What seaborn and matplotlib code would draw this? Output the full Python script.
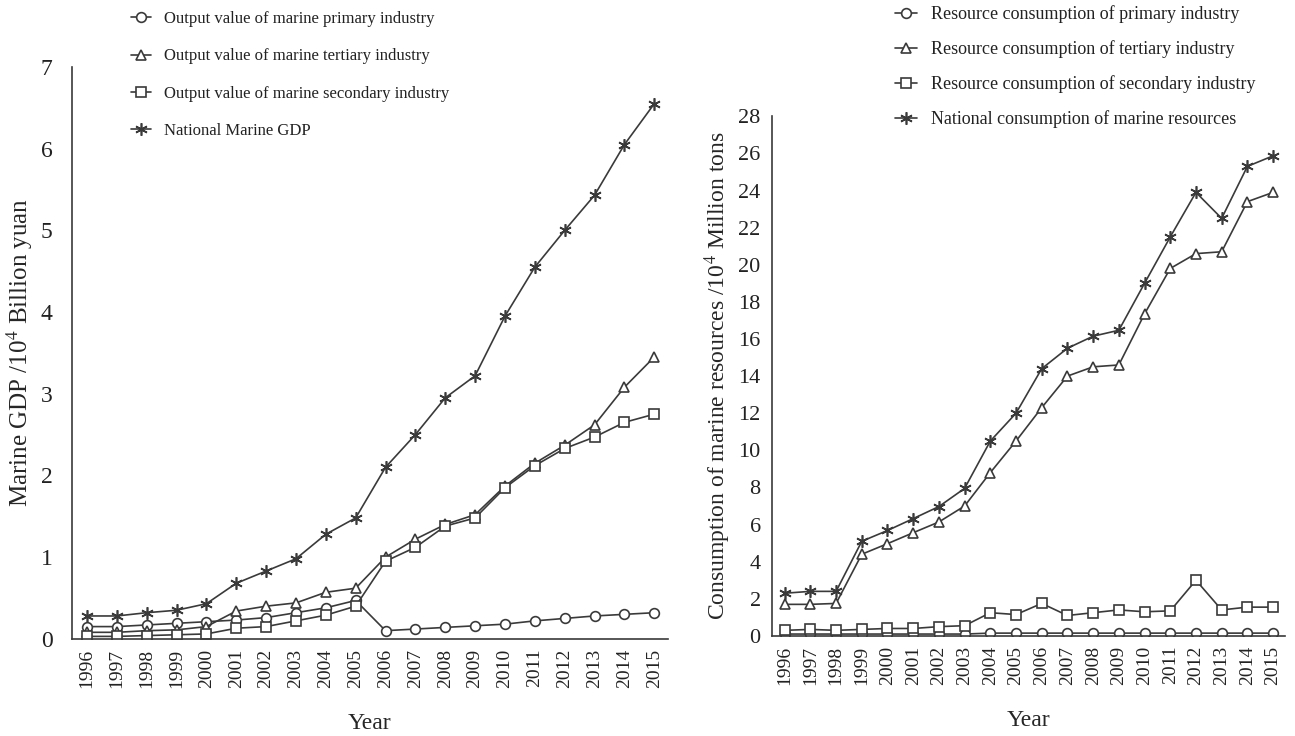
import matplotlib
matplotlib.use("Agg")
import matplotlib.pyplot as plt
import numpy as np
import seaborn as sns
from matplotlib.ticker import FixedLocator

YEARS = list(range(1996, 2016))

# left panel: marine GDP (10^4 billion yuan)
GDP_PRIMARY = [0.15, 0.15, 0.17, 0.19, 0.21, 0.23, 0.26, 0.32, 0.38, 0.47,
               0.10, 0.12, 0.14, 0.16, 0.18, 0.22, 0.25, 0.28, 0.30, 0.32]
GDP_TERTIARY = [0.08, 0.08, 0.10, 0.11, 0.15, 0.34, 0.40, 0.44, 0.57, 0.62,
                1.00, 1.22, 1.40, 1.52, 1.87, 2.15, 2.37, 2.62, 3.08, 3.45]
GDP_SECONDARY = [0.03, 0.03, 0.04, 0.05, 0.06, 0.13, 0.15, 0.22, 0.29, 0.40,
                 0.95, 1.12, 1.38, 1.48, 1.85, 2.12, 2.33, 2.47, 2.65, 2.75]
GDP_NATIONAL = [0.28, 0.28, 0.32, 0.35, 0.43, 0.68, 0.83, 0.98, 1.28, 1.48,
                2.10, 2.50, 2.95, 3.22, 3.95, 4.55, 5.00, 5.43, 6.05, 6.55]

# right panel: resource consumption (10^4 million tons)
RES_PRIMARY = [0.10, 0.10, 0.10, 0.10, 0.10, 0.10, 0.10, 0.10, 0.15, 0.15,
               0.15, 0.15, 0.15, 0.15, 0.15, 0.15, 0.15, 0.15, 0.15, 0.15]
RES_TERTIARY = [1.70, 1.70, 1.75, 4.40, 4.97, 5.56, 6.14, 7.00, 8.80, 10.50,
                12.30, 14.00, 14.50, 14.60, 17.35, 19.80, 20.60, 20.70, 23.40, 23.90]
RES_SECONDARY = [0.30, 0.35, 0.30, 0.35, 0.40, 0.40, 0.50, 0.55, 1.25, 1.15,
                 1.75, 1.10, 1.25, 1.40, 1.30, 1.35, 3.00, 1.40, 1.55, 1.55]
RES_NATIONAL = [2.30, 2.40, 2.40, 5.10, 5.68, 6.32, 6.97, 7.95, 10.50, 12.00,
                14.40, 15.50, 16.15, 16.47, 19.00, 21.50, 23.90, 22.50, 25.30, 25.87]

LEFT_LABELS = [
    "Output value of marine primary industry",
    "Output value of marine tertiary industry",
    "Output value of marine secondary industry",
    "National Marine GDP",
]
RIGHT_LABELS = [
    "Resource consumption of primary industry",
    "Resource consumption of tertiary industry",
    "Resource consumption of secondary industry",
    "National consumption of marine resources",
]

LINE_COLOR = "#3a3a3a"
MARKERS = ["o", "^", "s", (6, 2, 0)]
MARKER_SIZES = [7, 7.5, 7, 9]


def draw_panel(ax, series, labels, ymax, ystep, ylabel, legend_anchor,
               tick_size, tick_pad, legend_size, legend_spacing, ylabel_size):
    for values, label, marker, size in zip(series, labels, MARKERS, MARKER_SIZES):
        sns.lineplot(
            x=YEARS,
            y=values,
            ax=ax,
            color=LINE_COLOR,
            linewidth=1.2,
            marker=marker,
            markersize=size,
            markerfacecolor="white",
            markeredgecolor=LINE_COLOR,
            markeredgewidth=1.2,
            label=label,
        )

    ax.set_ylim(0, ymax)
    ax.set_yticks(np.arange(0, ymax + 0.1, ystep))
    ax.set_xlim(1995.5, 2015.45)
    ax.set_xticks(YEARS)
    ax.set_xticklabels([str(y) for y in YEARS], rotation=90)
    ax.xaxis.set_minor_locator(FixedLocator(np.arange(1996.5, 2015.5, 1)))

    ax.tick_params(axis="x", which="major", length=0, labelsize=14, pad=7)
    ax.tick_params(axis="x", which="minor", direction="in", length=4, width=1, color=LINE_COLOR)
    ax.tick_params(axis="y", direction="in", length=5, width=1, color=LINE_COLOR,
                   labelsize=tick_size, pad=tick_pad)

    for side in ["top", "right"]:
        ax.spines[side].set_visible(False)
    for side in ["left", "bottom"]:
        ax.spines[side].set_color(LINE_COLOR)
        ax.spines[side].set_linewidth(1.2)

    ax.set_xlabel("Year", fontsize=17, labelpad=18)
    ax.set_ylabel(ylabel, fontsize=ylabel_size, labelpad=4)

    ax.legend(
        loc="upper left",
        bbox_to_anchor=legend_anchor,
        bbox_transform=ax.figure.transFigure,
        frameon=False,
        fontsize=legend_size,
        handlelength=1.2,
        handletextpad=0.8,
        labelspacing=legend_spacing,
        borderpad=0,
        borderaxespad=0,
    )


def main() -> None:
    sns.set_theme(style="white")
    plt.rcParams["font.family"] = ["Liberation Serif", "DejaVu Serif"]
    plt.rcParams["mathtext.fontset"] = "stix"
    plt.rcParams["text.color"] = "#222222"
    plt.rcParams["xtick.color"] = "#222222"
    plt.rcParams["ytick.color"] = "#222222"

    fig = plt.figure(figsize=(12.95, 7.36), dpi=100)
    ax_left = fig.add_axes([0.0556, 0.132, 0.46, 0.777])
    ax_right = fig.add_axes([0.596, 0.136, 0.396, 0.706])

    draw_panel(
        ax_left,
        [GDP_PRIMARY, GDP_TERTIARY, GDP_SECONDARY, GDP_NATIONAL],
        LEFT_LABELS,
        ymax=7,
        ystep=1,
        ylabel="Marine GDP /10$^4$ Billion yuan",
        legend_anchor=(131 / 1295, 1 - 11 / 736),
        tick_size=17,
        tick_pad=14,
        legend_size=12,
        legend_spacing=1.28,
        ylabel_size=18,
    )
    draw_panel(
        ax_right,
        [RES_PRIMARY, RES_TERTIARY, RES_SECONDARY, RES_NATIONAL],
        RIGHT_LABELS,
        ymax=28,
        ystep=2,
        ylabel="Consumption of marine resources /10$^4$ Million tons",
        legend_anchor=(895 / 1295, 1 - 5 / 736),
        tick_size=16,
        tick_pad=8,
        legend_size=13,
        legend_spacing=0.95,
        ylabel_size=17,
    )

    fig.savefig("out.png", dpi=100)
    plt.close(fig)


if __name__ == "__main__":
    main()
